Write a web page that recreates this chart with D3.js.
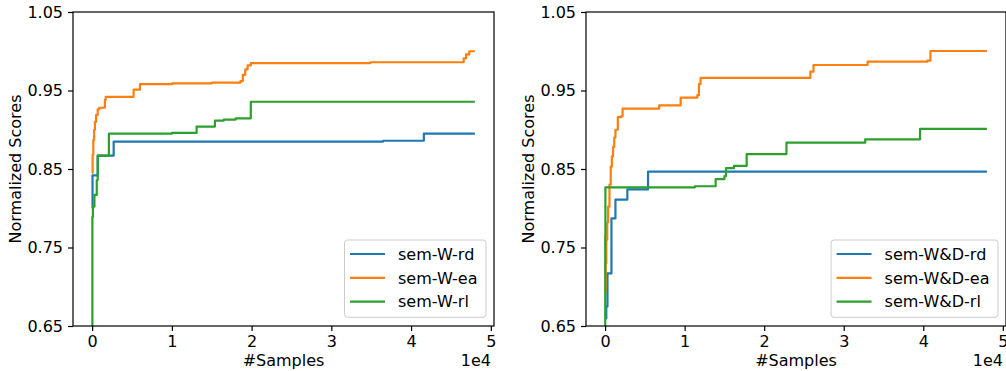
<!DOCTYPE html>
<html>
<head>
<meta charset="utf-8">
<script src="https://cdn.jsdelivr.net/npm/d3@7"></script>
<style>
  html, body { margin: 0; padding: 0; background: #fff; }
  svg { display: block; font-family: "DejaVu Sans", sans-serif; }
</style>
</head>
<body>
<svg id="chart" width="1006" height="371"></svg>
<script>
// left panel: sem-W
const leftRdX = [0, 50, 700, 2700, 36500, 41600, 48000];
const leftRdY = [0.800, 0.842, 0.867, 0.885, 0.886, 0.895, 0.895];
const leftEaX = [0, 60, 150, 250, 350, 500, 700, 900, 1600, 1700, 5200, 6000, 10000, 15000, 18600, 18900, 19200, 19500, 19900, 34900, 46600, 46900, 47300, 48000];
const leftEaY = [0.845, 0.868, 0.887, 0.900, 0.910, 0.919, 0.926, 0.928, 0.938, 0.942, 0.951, 0.958, 0.959, 0.960, 0.962, 0.970, 0.977, 0.982, 0.985, 0.986, 0.991, 0.996, 1.000, 1.000];
const leftRlX = [0, 30, 100, 290, 580, 700, 2100, 10000, 13100, 15400, 16500, 18000, 19900, 48000];
const leftRlY = [0.650, 0.789, 0.802, 0.817, 0.836, 0.867, 0.895, 0.896, 0.904, 0.9115, 0.913, 0.9146, 0.9357, 0.9357];

// right panel: sem-W&D
const rightRdX = [0, 150, 300, 800, 1300, 2800, 5400, 48000];
const rightRdY = [0.660, 0.675, 0.717, 0.787, 0.811, 0.824, 0.8466, 0.8466];
const rightEaX = [0, 80, 160, 270, 380, 550, 710, 850, 1000, 1150, 1300, 1600, 2000, 2200, 6800, 9500, 11600, 11800, 12000, 25500, 25800, 26200, 33000, 39400, 40500, 40900, 48000];
const rightEaY = [0.694, 0.730, 0.760, 0.782, 0.802, 0.830, 0.853, 0.866, 0.878, 0.890, 0.900, 0.916, 0.917, 0.927, 0.931, 0.941, 0.944, 0.958, 0.966, 0.966, 0.974, 0.9825, 0.9867, 0.9867, 0.988, 1.0003, 1.0003];
const rightRlX = [0, 20, 40, 11300, 13900, 15000, 15200, 16200, 17800, 22800, 32700, 39600, 48000];
const rightRlY = [0.650, 0.766, 0.8267, 0.828, 0.837, 0.841, 0.851, 0.854, 0.869, 0.8835, 0.8878, 0.901, 0.901];

const yTicks = [0.65, 0.75, 0.85, 0.95, 1.05];
const xTicks = [0, 10000, 20000, 30000, 40000, 50000];
const xTickLabels = ["0", "1", "2", "3", "4", "5"];
const colors = ["#1f77b4", "#ff7f0e", "#2ca02c"];

const panels = [
  { left: 73, right: 494, names: ["sem-W-rd", "sem-W-ea", "sem-W-rl"],
    xs: [leftRdX, leftEaX, leftRlX], ys: [leftRdY, leftEaY, leftRlY] },
  { left: 586, right: 1006, names: ["sem-W&D-rd", "sem-W&D-ea", "sem-W&D-rl"],
    xs: [rightRdX, rightEaX, rightRlX], ys: [rightRdY, rightEaY, rightRlY] }
];

const plotTop = 12, plotBottom = 326;
const fontSize = 16;
const svg = d3.select("#chart");

panels.forEach(p => {
  const x = d3.scaleLinear().domain([-2400, 50400]).range([p.left, p.right]);
  const y = d3.scaleLinear().domain([0.65, 1.05]).range([plotBottom, plotTop]);
  const g = svg.append("g");

  // lines
  const line = d3.line()
    .x(d => x(d[0]))
    .y(d => y(d[1]))
    .curve(d3.curveStepAfter);

  p.xs.forEach((xs, i) => {
    const pts = xs.map((v, j) => [v, p.ys[i][j]]);
    g.append("path")
      .datum(pts)
      .attr("d", line)
      .attr("fill", "none")
      .attr("stroke", colors[i])
      .attr("stroke-width", 2.2)
      .attr("stroke-linejoin", "round");
  });

  // axes
  const xAxis = d3.axisBottom(x).tickValues(xTicks)
    .tickFormat((d, i) => xTickLabels[i]).tickSizeInner(5).tickSizeOuter(0).tickPadding(5);
  const yAxis = d3.axisLeft(y).tickValues(yTicks)
    .tickFormat(d3.format(".2f")).tickSizeInner(5).tickSizeOuter(0).tickPadding(5);

  const gx = g.append("g").attr("transform", `translate(0,${plotBottom})`).call(xAxis);
  const gy = g.append("g").attr("transform", `translate(${p.left},0)`).call(yAxis);
  [gx, gy].forEach(a => {
    a.select(".domain").remove();
    a.selectAll("line").attr("stroke", "#000").attr("stroke-width", 1.2);
    a.selectAll("text").attr("font-size", fontSize).attr("fill", "#000")
      .attr("font-family", "DejaVu Sans, sans-serif");
  });

  // frame
  g.append("rect")
    .attr("x", p.left).attr("y", plotTop)
    .attr("width", p.right - p.left).attr("height", plotBottom - plotTop)
    .attr("fill", "none").attr("stroke", "#000").attr("stroke-width", 1.2);

  // labels
  g.append("text")
    .attr("x", (p.left + p.right) / 2).attr("y", 366)
    .attr("text-anchor", "middle").attr("font-size", fontSize)
    .text("#Samples");
  g.append("text")
    .attr("transform", `translate(${p.left - 52.5},${(plotTop + plotBottom) / 2}) rotate(-90)`)
    .attr("text-anchor", "middle").attr("font-size", fontSize)
    .text("Normalized Scores");
  g.append("text")
    .attr("x", p.right - 3).attr("y", 366)
    .attr("text-anchor", "end").attr("font-size", fontSize)
    .text("1e4");

  // legend
  const leg = g.append("g");
  const frame = leg.append("rect");
  const texts = p.names.map((name, i) => {
    leg.append("line")
      .attr("x1", 0).attr("x2", 35)
      .attr("y1", i * 23.8).attr("y2", i * 23.8)
      .attr("stroke", colors[i]).attr("stroke-width", 2.2);
    return leg.append("text")
      .attr("x", 48).attr("y", i * 23.8).attr("dy", "0.36em")
      .attr("font-size", fontSize).text(name);
  });
  const textW = d3.max(texts, t => t.node().getComputedTextLength());
  const boxW = 5.5 + 48 + textW + 8.5;
  const boxH = 77.3;
  const bx = p.right - 8 - boxW, by = plotBottom - 8.7 - boxH;
  frame.attr("x", -5.5).attr("y", -14).attr("width", boxW).attr("height", boxH)
    .attr("rx", 3).attr("fill", "#fff").attr("fill-opacity", 0.8)
    .attr("stroke", "#ccc").attr("stroke-width", 1);
  leg.attr("transform", `translate(${bx + 5.5},${by + 14})`);
});
</script>
</body>
</html>
